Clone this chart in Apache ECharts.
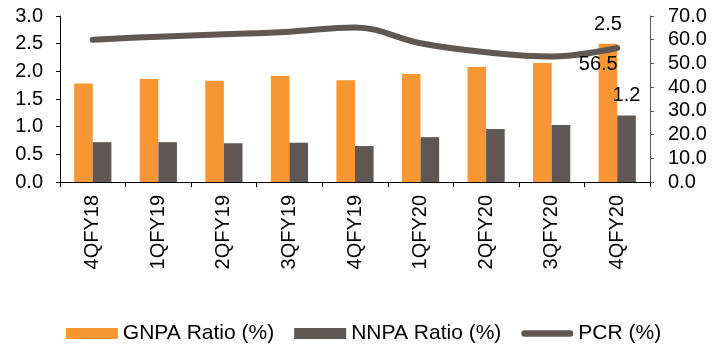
<!DOCTYPE html>
<html>
<head>
<meta charset="utf-8">
<script src="https://cdn.jsdelivr.net/npm/echarts@6/dist/echarts.min.js"></script>
<style>
  html, body { margin: 0; padding: 0; background: #fff; }
  #chart { width: 727px; height: 349px; }
</style>
</head>
<body>
<div id="chart"></div>
<script>
// Quarterly asset-quality trend: gross / net NPA ratios (left axis) and provision coverage (right axis)
const quarters = ['4QFY18', '1QFY19', '2QFY19', '3QFY19', '4QFY19', '1QFY20', '2QFY20', '3QFY20', '4QFY20'];
const gnpaRatio = [1.78, 1.86, 1.83, 1.92, 1.84, 1.95, 2.08, 2.15, 2.5];
const nnpaRatio = [0.72, 0.72, 0.70, 0.71, 0.65, 0.81, 0.96, 1.03, 1.2];
const pcr = [60.0, 61.3, 62.3, 63.4, 65.2, 58.5, 54.7, 52.9, 56.5];
const leftTicks = { min: 0, max: 3, interval: 0.5 };
const rightTicks = { min: 0, max: 70, interval: 10 };

const FONT = '"Liberation Sans", Arial, sans-serif';
const ORANGE = '#f79633';
const GREY = '#5f5753';

// only the latest quarter carries a value label
function lastLabelled(values, label) {
  return values.map((v, i) => i === values.length - 1 ? { value: v, label: label } : v);
}

const chart = echarts.init(document.getElementById('chart'), null, { renderer: 'canvas' });

chart.setOption({
  animation: false,
  textStyle: { fontFamily: FONT },
  grid: { left: 60, right: 77, top: 16, bottom: 167 },
  legend: {
    top: 323,
    left: 'center',
    padding: 0,
    itemGap: 20,
    itemWidth: 52,
    itemHeight: 11,
    textStyle: { fontSize: 21, color: '#000', fontFamily: FONT },
    data: [
      { name: 'GNPA Ratio (%)', icon: 'rect' },
      { name: 'NNPA Ratio (%)', icon: 'rect' },
      {
        name: 'PCR (%)',
        icon: 'path://M0,0 L0.01,0 L0.01,0.01 Z M3,2.2 L49,2.2 A3.3,3.3 0 0 1 49,8.8 L3,8.8 A3.3,3.3 0 0 1 3,2.2 Z M0,11 L0.01,11 L0.01,10.99 Z',
        itemStyle: { color: GREY, opacity: 1 }
      }
    ]
  },
  xAxis: {
    type: 'category',
    data: quarters,
    boundaryGap: true,
    axisLine: { lineStyle: { color: '#000', width: 1 } },
    axisTick: { show: true, length: 5, lineStyle: { color: '#000' } },
    axisLabel: { rotate: 90, margin: 13, fontSize: 20, color: '#000', fontFamily: FONT }
  },
  yAxis: [
    {
      type: 'value',
      min: leftTicks.min,
      max: leftTicks.max,
      interval: leftTicks.interval,
      splitLine: { show: false },
      axisLine: { show: true, lineStyle: { color: '#000' } },
      axisTick: { show: true, length: 4, lineStyle: { color: '#000' } },
      axisLabel: { margin: 17, fontSize: 20, color: '#000', fontFamily: FONT,
        formatter: v => v.toFixed(1) }
    },
    {
      type: 'value',
      position: 'right',
      min: rightTicks.min,
      max: rightTicks.max,
      interval: rightTicks.interval,
      splitLine: { show: false },
      axisLine: { show: true, lineStyle: { color: '#595959' } },
      axisTick: { show: true, length: 4, lineStyle: { color: '#595959' } },
      axisLabel: { margin: 18, fontSize: 20, color: '#000', fontFamily: FONT,
        formatter: v => v.toFixed(1) }
    }
  ],
  series: [
    {
      name: 'GNPA Ratio (%)',
      type: 'bar',
      yAxisIndex: 0,
      barWidth: 18.6,
      barGap: '0%',
      itemStyle: { color: ORANGE },
      data: lastLabelled(gnpaRatio, {
        show: true, position: 'top', distance: 9, fontSize: 20, color: '#000', fontFamily: FONT,
        formatter: p => p.value.toFixed(1)
      })
    },
    {
      name: 'NNPA Ratio (%)',
      type: 'bar',
      yAxisIndex: 0,
      barWidth: 18.6,
      barGap: '0%',
      itemStyle: { color: GREY },
      data: lastLabelled(nnpaRatio, {
        show: true, position: 'top', distance: 10, fontSize: 20, color: '#000', fontFamily: FONT,
        formatter: p => p.value.toFixed(1)
      })
    },
    {
      name: 'PCR (%)',
      type: 'line',
      yAxisIndex: 1,
      smooth: 0.4,
      symbol: 'circle',
      symbolSize: 1,
      showSymbol: true,
      itemStyle: { color: GREY },
      lineStyle: { color: GREY, width: 6, cap: 'round', join: 'round' },
      z: 5,
      data: lastLabelled(pcr, {
        show: true, position: [1, 7], align: 'right', verticalAlign: 'top',
        fontSize: 20, color: '#000', fontFamily: FONT,
        formatter: p => p.value.toFixed(1)
      })
    }
  ]
});
</script>
</body>
</html>
